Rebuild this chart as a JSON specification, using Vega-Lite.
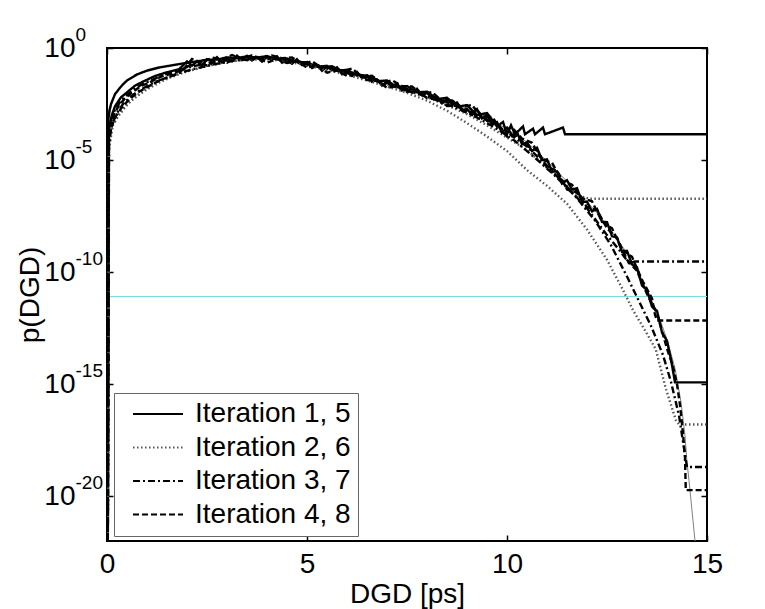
{
"$schema": "https://vega.github.io/schema/vega-lite/v6.json",
"width": 600, "height": 493,
"autosize": {"type": "none"},
"padding": {"left": 107, "top": 48, "right": 58, "bottom": 68},
"background": "white",
"config": {
  "view": {"stroke": "black", "strokeWidth": 2},
  "font": "Liberation Sans",
  "axis": {"domain": false, "grid": false, "labelFont": "Liberation Sans", "titleFont": "Liberation Sans", "labelColor": "black", "titleColor": "black", "tickColor": "black", "tickWidth": 1.5, "titleFontWeight": "normal", "labelFlush": false, "labelOverlap": false, "labelBound": false},
  "legend": {"symbolType": "M-2.5,0H2.5", "symbolSize": 400, "symbolStrokeWidth": 2, "symbolOffset": 23, "labelFontSize": 28, "labelFont": "Liberation Sans", "labelColor": "black", "labelOffset": 23, "rowPadding": 5.5, "padding": 7, "strokeColor": "#666666", "fillColor": "white", "labelLimit": 400}
},
"datasets": {
  "styles": [
    {"iter": 1, "grp": "Iteration 1, 5"}, {"iter": 5, "grp": "Iteration 1, 5"},
    {"iter": 2, "grp": "Iteration 2, 6"}, {"iter": 6, "grp": "Iteration 2, 6"},
    {"iter": 3, "grp": "Iteration 3, 7"}, {"iter": 7, "grp": "Iteration 3, 7"},
    {"iter": 4, "grp": "Iteration 4, 8"}, {"iter": 8, "grp": "Iteration 4, 8"}
  ],
  "marker": [{"logp": -11.09}],
  "theory": [
    {"dgd": 0.005, "logp": -22}, {"dgd": 0.02, "logp": -4.0}, {"dgd": 0.05, "logp": -3.2}, {"dgd": 0.1, "logp": -2.6}, {"dgd": 0.2, "logp": -2.05}, {"dgd": 0.3, "logp": -1.8}, {"dgd": 0.5, "logp": -1.45}, {"dgd": 0.75, "logp": -1.18}, {"dgd": 1.0, "logp": -1.0}, {"dgd": 1.5, "logp": -0.8}, {"dgd": 2.0, "logp": -0.67}, {"dgd": 2.5, "logp": -0.55}, {"dgd": 3.0, "logp": -0.46}, {"dgd": 3.5, "logp": -0.42}, {"dgd": 4.0, "logp": -0.42}, {"dgd": 4.5, "logp": -0.52}, {"dgd": 5.0, "logp": -0.7}, {"dgd": 5.5, "logp": -0.86}, {"dgd": 6.0, "logp": -1.05}, {"dgd": 6.5, "logp": -1.3}, {"dgd": 7.0, "logp": -1.55}, {"dgd": 7.5, "logp": -1.8}, {"dgd": 8.0, "logp": -2.05}, {"dgd": 8.5, "logp": -2.35}, {"dgd": 9.0, "logp": -2.7}, {"dgd": 9.5, "logp": -3.1}, {"dgd": 10.0, "logp": -3.62}, {"dgd": 10.5, "logp": -4.2}, {"dgd": 11.0, "logp": -5.05}, {"dgd": 11.5, "logp": -5.95}, {"dgd": 12.0, "logp": -6.85}, {"dgd": 12.5, "logp": -7.9}, {"dgd": 13.0, "logp": -9.15}, {"dgd": 13.5, "logp": -10.8}, {"dgd": 13.8, "logp": -12.0}, {"dgd": 14.0, "logp": -13.0}, {"dgd": 14.2, "logp": -14.3}, {"dgd": 14.35, "logp": -15.8}, {"dgd": 14.45, "logp": -17.3}, {"dgd": 14.5, "logp": -18.5}, {"dgd": 14.55, "logp": -19.3}, {"dgd": 14.6, "logp": -20.2}, {"dgd": 14.65, "logp": -21.1}, {"dgd": 14.7, "logp": -22}
  ],
  "curves": [
    {"iter": 1, "dgd": 0.02, "logp": -22}, {"iter": 1, "dgd": 0.03, "logp": -3.2}, {"iter": 1, "dgd": 0.06, "logp": -2.8}, {"iter": 1, "dgd": 0.1, "logp": -2.5}, {"iter": 1, "dgd": 0.2, "logp": -2.06}, {"iter": 1, "dgd": 0.3, "logp": -1.83}, {"iter": 1, "dgd": 0.4, "logp": -1.62}, {"iter": 1, "dgd": 0.5, "logp": -1.45}, {"iter": 1, "dgd": 0.75, "logp": -1.18}, {"iter": 1, "dgd": 1.0, "logp": -1.01}, {"iter": 1, "dgd": 1.3, "logp": -0.87}, {"iter": 1, "dgd": 1.7, "logp": -0.75}, {"iter": 1, "dgd": 2.0, "logp": -0.66}, {"iter": 1, "dgd": 2.25, "logp": -0.6}, {"iter": 1, "dgd": 2.5, "logp": -0.52}, {"iter": 1, "dgd": 2.75, "logp": -0.52}, {"iter": 1, "dgd": 3.0, "logp": -0.42}, {"iter": 1, "dgd": 3.25, "logp": -0.45}, {"iter": 1, "dgd": 3.5, "logp": -0.37}, {"iter": 1, "dgd": 3.75, "logp": -0.43}, {"iter": 1, "dgd": 4.0, "logp": -0.36}, {"iter": 1, "dgd": 4.25, "logp": -0.49}, {"iter": 1, "dgd": 4.5, "logp": -0.47}, {"iter": 1, "dgd": 4.75, "logp": -0.62}, {"iter": 1, "dgd": 5.0, "logp": -0.64}, {"iter": 1, "dgd": 5.25, "logp": -0.83}, {"iter": 1, "dgd": 5.5, "logp": -0.8}, {"iter": 1, "dgd": 5.75, "logp": -1.0}, {"iter": 1, "dgd": 6.0, "logp": -0.98}, {"iter": 1, "dgd": 6.25, "logp": -1.22}, {"iter": 1, "dgd": 6.5, "logp": -1.22}, {"iter": 1, "dgd": 6.75, "logp": -1.48}, {"iter": 1, "dgd": 7.0, "logp": -1.45}, {"iter": 1, "dgd": 7.25, "logp": -1.75}, {"iter": 1, "dgd": 7.5, "logp": -1.7}, {"iter": 1, "dgd": 7.75, "logp": -1.98}, {"iter": 1, "dgd": 8.0, "logp": -1.95}, {"iter": 1, "dgd": 8.25, "logp": -2.28}, {"iter": 1, "dgd": 8.5, "logp": -2.22}, {"iter": 1, "dgd": 8.75, "logp": -2.62}, {"iter": 1, "dgd": 9.0, "logp": -2.55}, {"iter": 1, "dgd": 9.25, "logp": -3.0}, {"iter": 1, "dgd": 9.5, "logp": -2.9}, {"iter": 1, "dgd": 9.75, "logp": -3.5}, {"iter": 1, "dgd": 9.9, "logp": -3.3}, {"iter": 1, "dgd": 10.0, "logp": -3.85}, {"iter": 1, "dgd": 10.1, "logp": -3.45}, {"iter": 1, "dgd": 10.2, "logp": -3.85}, {"iter": 1, "dgd": 10.4, "logp": -3.5}, {"iter": 1, "dgd": 10.45, "logp": -3.85}, {"iter": 1, "dgd": 10.65, "logp": -3.6}, {"iter": 1, "dgd": 10.7, "logp": -3.85}, {"iter": 1, "dgd": 10.9, "logp": -3.55}, {"iter": 1, "dgd": 10.95, "logp": -3.85}, {"iter": 1, "dgd": 11.4, "logp": -3.55}, {"iter": 1, "dgd": 11.45, "logp": -3.85}, {"iter": 1, "dgd": 15, "logp": -3.85},

    {"iter": 2, "dgd": 0.02, "logp": -22}, {"iter": 2, "dgd": 0.04, "logp": -4.6}, {"iter": 2, "dgd": 0.12, "logp": -3.5}, {"iter": 2, "dgd": 0.2, "logp": -3.3}, {"iter": 2, "dgd": 0.28, "logp": -3.05}, {"iter": 2, "dgd": 0.45, "logp": -2.65}, {"iter": 2, "dgd": 0.6, "logp": -2.35}, {"iter": 2, "dgd": 0.8, "logp": -2.05}, {"iter": 2, "dgd": 1.0, "logp": -1.8}, {"iter": 2, "dgd": 1.25, "logp": -1.5}, {"iter": 2, "dgd": 1.5, "logp": -1.35}, {"iter": 2, "dgd": 1.85, "logp": -1.1}, {"iter": 2, "dgd": 2.2, "logp": -0.95}, {"iter": 2, "dgd": 2.5, "logp": -0.8}, {"iter": 2, "dgd": 2.75, "logp": -0.72}, {"iter": 2, "dgd": 3.0, "logp": -0.58}, {"iter": 2, "dgd": 3.5, "logp": -0.5}, {"iter": 2, "dgd": 4.0, "logp": -0.47}, {"iter": 2, "dgd": 4.5, "logp": -0.55}, {"iter": 2, "dgd": 5.0, "logp": -0.74}, {"iter": 2, "dgd": 5.5, "logp": -0.92}, {"iter": 2, "dgd": 6.0, "logp": -1.12}, {"iter": 2, "dgd": 6.5, "logp": -1.36}, {"iter": 2, "dgd": 7.0, "logp": -1.63}, {"iter": 2, "dgd": 7.5, "logp": -1.9}, {"iter": 2, "dgd": 8.0, "logp": -2.2}, {"iter": 2, "dgd": 8.5, "logp": -2.55}, {"iter": 2, "dgd": 9.0, "logp": -2.95}, {"iter": 2, "dgd": 9.5, "logp": -3.45}, {"iter": 2, "dgd": 10.0, "logp": -4.0}, {"iter": 2, "dgd": 10.5, "logp": -4.55}, {"iter": 2, "dgd": 11.0, "logp": -5.35}, {"iter": 2, "dgd": 11.5, "logp": -6.15}, {"iter": 2, "dgd": 11.8, "logp": -6.6}, {"iter": 2, "dgd": 12.07, "logp": -6.73}, {"iter": 2, "dgd": 15, "logp": -6.73},

    {"iter": 3, "dgd": 0.02, "logp": -22}, {"iter": 3, "dgd": 0.04, "logp": -4.0}, {"iter": 3, "dgd": 0.1, "logp": -3.2}, {"iter": 3, "dgd": 0.2, "logp": -2.75}, {"iter": 3, "dgd": 0.35, "logp": -2.35}, {"iter": 3, "dgd": 0.5, "logp": -2.1}, {"iter": 3, "dgd": 0.7, "logp": -1.8}, {"iter": 3, "dgd": 0.9, "logp": -1.6}, {"iter": 3, "dgd": 1.1, "logp": -1.45}, {"iter": 3, "dgd": 1.4, "logp": -1.2}, {"iter": 3, "dgd": 1.7, "logp": -1.05}, {"iter": 3, "dgd": 2.0, "logp": -0.88}, {"iter": 3, "dgd": 2.4, "logp": -0.72}, {"iter": 3, "dgd": 2.8, "logp": -0.6}, {"iter": 3, "dgd": 3.2, "logp": -0.5}, {"iter": 3, "dgd": 3.6, "logp": -0.45}, {"iter": 3, "dgd": 4.0, "logp": -0.44}, {"iter": 3, "dgd": 4.5, "logp": -0.5}, {"iter": 3, "dgd": 5.0, "logp": -0.68}, {"iter": 3, "dgd": 5.5, "logp": -0.85}, {"iter": 3, "dgd": 6.0, "logp": -1.04}, {"iter": 3, "dgd": 6.5, "logp": -1.28}, {"iter": 3, "dgd": 7.0, "logp": -1.55}, {"iter": 3, "dgd": 7.5, "logp": -1.82}, {"iter": 3, "dgd": 8.0, "logp": -2.1}, {"iter": 3, "dgd": 8.5, "logp": -2.42}, {"iter": 3, "dgd": 9.0, "logp": -2.8}, {"iter": 3, "dgd": 9.5, "logp": -3.2}, {"iter": 3, "dgd": 10.0, "logp": -3.75}, {"iter": 3, "dgd": 10.5, "logp": -4.4}, {"iter": 3, "dgd": 11.0, "logp": -5.25}, {"iter": 3, "dgd": 11.5, "logp": -6.2}, {"iter": 3, "dgd": 12.0, "logp": -7.15}, {"iter": 3, "dgd": 12.5, "logp": -8.35}, {"iter": 3, "dgd": 12.8, "logp": -9.0}, {"iter": 3, "dgd": 13.05, "logp": -9.6}, {"iter": 3, "dgd": 13.2, "logp": -9.53}, {"iter": 3, "dgd": 15, "logp": -9.53},

    {"iter": 4, "dgd": 0.02, "logp": -22}, {"iter": 4, "dgd": 0.04, "logp": -3.9}, {"iter": 4, "dgd": 0.1, "logp": -3.3}, {"iter": 4, "dgd": 0.18, "logp": -2.95}, {"iter": 4, "dgd": 0.3, "logp": -2.55}, {"iter": 4, "dgd": 0.45, "logp": -2.25}, {"iter": 4, "dgd": 0.65, "logp": -1.95}, {"iter": 4, "dgd": 0.85, "logp": -1.7}, {"iter": 4, "dgd": 1.1, "logp": -1.5}, {"iter": 4, "dgd": 1.35, "logp": -1.28}, {"iter": 4, "dgd": 1.6, "logp": -1.15}, {"iter": 4, "dgd": 1.9, "logp": -0.98},
    {"iter": 4, "dgd": 2.125, "logp": -0.49}, {"iter": 4, "dgd": 2.375, "logp": -0.66}, {"iter": 4, "dgd": 2.625, "logp": -0.43}, {"iter": 4, "dgd": 2.875, "logp": -0.51}, {"iter": 4, "dgd": 3.125, "logp": -0.31}, {"iter": 4, "dgd": 3.375, "logp": -0.49}, {"iter": 4, "dgd": 3.625, "logp": -0.32}, {"iter": 4, "dgd": 3.875, "logp": -0.51}, {"iter": 4, "dgd": 4.125, "logp": -0.33}, {"iter": 4, "dgd": 4.375, "logp": -0.46}, {"iter": 4, "dgd": 4.625, "logp": -0.42}, {"iter": 4, "dgd": 4.875, "logp": -0.72}, {"iter": 4, "dgd": 5.125, "logp": -0.59}, {"iter": 4, "dgd": 5.375, "logp": -0.9}, {"iter": 4, "dgd": 5.625, "logp": -0.81}, {"iter": 4, "dgd": 5.875, "logp": -1.03}, {"iter": 4, "dgd": 6.125, "logp": -0.92}, {"iter": 4, "dgd": 6.375, "logp": -1.29}, {"iter": 4, "dgd": 6.625, "logp": -1.24}, {"iter": 4, "dgd": 6.875, "logp": -1.58}, {"iter": 4, "dgd": 7.125, "logp": -1.44}, {"iter": 4, "dgd": 7.375, "logp": -1.7}, {"iter": 4, "dgd": 7.625, "logp": -1.72}, {"iter": 4, "dgd": 7.875, "logp": -2.05}, {"iter": 4, "dgd": 8.125, "logp": -1.97}, {"iter": 4, "dgd": 8.375, "logp": -2.35}, {"iter": 4, "dgd": 8.625, "logp": -2.34}, {"iter": 4, "dgd": 8.875, "logp": -2.64}, {"iter": 4, "dgd": 9.125, "logp": -2.54}, {"iter": 4, "dgd": 9.375, "logp": -3.12}, {"iter": 4, "dgd": 9.625, "logp": -3.07}, {"iter": 4, "dgd": 9.875, "logp": -3.68}, {"iter": 4, "dgd": 10.125, "logp": -3.55}, {"iter": 4, "dgd": 10.375, "logp": -4.04}, {"iter": 4, "dgd": 10.625, "logp": -4.23}, {"iter": 4, "dgd": 10.875, "logp": -4.99}, {"iter": 4, "dgd": 11.125, "logp": -5.12}, {"iter": 4, "dgd": 11.375, "logp": -5.92}, {"iter": 4, "dgd": 11.625, "logp": -6.1}, {"iter": 4, "dgd": 11.875, "logp": -6.7}, {"iter": 4, "dgd": 12.125, "logp": -6.84}, {"iter": 4, "dgd": 12.375, "logp": -7.74}, {"iter": 4, "dgd": 12.625, "logp": -8.05}, {"iter": 4, "dgd": 12.875, "logp": -9.0}, {"iter": 4, "dgd": 13.125, "logp": -9.32}, {"iter": 4, "dgd": 13.375, "logp": -10.35}, {"iter": 4, "dgd": 13.625, "logp": -11.17}, {"iter": 4, "dgd": 13.7, "logp": -11.9}, {"iter": 4, "dgd": 13.75, "logp": -12.16}, {"iter": 4, "dgd": 15, "logp": -12.16},

    {"iter": 5, "dgd": 0.02, "logp": -22}, {"iter": 5, "dgd": 0.05, "logp": -3.6}, {"iter": 5, "dgd": 0.12, "logp": -3.0}, {"iter": 5, "dgd": 0.2, "logp": -2.6}, {"iter": 5, "dgd": 0.35, "logp": -2.2}, {"iter": 5, "dgd": 0.5, "logp": -1.98}, {"iter": 5, "dgd": 0.7, "logp": -1.68}, {"iter": 5, "dgd": 0.9, "logp": -1.5}, {"iter": 5, "dgd": 1.2, "logp": -1.25}, {"iter": 5, "dgd": 1.5, "logp": -1.08}, {"iter": 5, "dgd": 1.8, "logp": -0.95},
    {"iter": 5, "dgd": 2.0, "logp": -0.6}, {"iter": 5, "dgd": 2.125, "logp": -0.79}, {"iter": 5, "dgd": 2.25, "logp": -0.6}, {"iter": 5, "dgd": 2.375, "logp": -0.78}, {"iter": 5, "dgd": 2.5, "logp": -0.5}, {"iter": 5, "dgd": 2.625, "logp": -0.61}, {"iter": 5, "dgd": 2.75, "logp": -0.41}, {"iter": 5, "dgd": 2.875, "logp": -0.65}, {"iter": 5, "dgd": 3.0, "logp": -0.48}, {"iter": 5, "dgd": 3.125, "logp": -0.59}, {"iter": 5, "dgd": 3.25, "logp": -0.34}, {"iter": 5, "dgd": 3.375, "logp": -0.54}, {"iter": 5, "dgd": 3.5, "logp": -0.35}, {"iter": 5, "dgd": 3.625, "logp": -0.56}, {"iter": 5, "dgd": 3.75, "logp": -0.4}, {"iter": 5, "dgd": 3.875, "logp": -0.61}, {"iter": 5, "dgd": 4.0, "logp": -0.37}, {"iter": 5, "dgd": 4.125, "logp": -0.53}, {"iter": 5, "dgd": 4.25, "logp": -0.37}, {"iter": 5, "dgd": 4.375, "logp": -0.66}, {"iter": 5, "dgd": 4.5, "logp": -0.54}, {"iter": 5, "dgd": 4.625, "logp": -0.7}, {"iter": 5, "dgd": 4.75, "logp": -0.5}, {"iter": 5, "dgd": 4.875, "logp": -0.76}, {"iter": 5, "dgd": 5.0, "logp": -0.63}, {"iter": 5, "dgd": 5.125, "logp": -0.89}, {"iter": 5, "dgd": 5.25, "logp": -0.77}, {"iter": 5, "dgd": 5.375, "logp": -1.02}, {"iter": 5, "dgd": 5.5, "logp": -0.81}, {"iter": 5, "dgd": 5.625, "logp": -0.99}, {"iter": 5, "dgd": 5.75, "logp": -0.86}, {"iter": 5, "dgd": 5.875, "logp": -1.17}, {"iter": 5, "dgd": 6.0, "logp": -1.07}, {"iter": 5, "dgd": 6.125, "logp": -1.25}, {"iter": 5, "dgd": 6.25, "logp": -1.07}, {"iter": 5, "dgd": 6.375, "logp": -1.34}, {"iter": 5, "dgd": 6.5, "logp": -1.23}, {"iter": 5, "dgd": 6.625, "logp": -1.51}, {"iter": 5, "dgd": 6.75, "logp": -1.41}, {"iter": 5, "dgd": 6.875, "logp": -1.68}, {"iter": 5, "dgd": 7.0, "logp": -1.5}, {"iter": 5, "dgd": 7.125, "logp": -1.7}, {"iter": 5, "dgd": 7.25, "logp": -1.58}, {"iter": 5, "dgd": 7.375, "logp": -1.9}, {"iter": 5, "dgd": 7.5, "logp": -1.82}, {"iter": 5, "dgd": 7.625, "logp": -2.0}, {"iter": 5, "dgd": 7.75, "logp": -1.82}, {"iter": 5, "dgd": 7.875, "logp": -2.09}, {"iter": 5, "dgd": 8.0, "logp": -1.98}, {"iter": 5, "dgd": 8.125, "logp": -2.27}, {"iter": 5, "dgd": 8.25, "logp": -2.19}, {"iter": 5, "dgd": 8.375, "logp": -2.47}, {"iter": 5, "dgd": 8.5, "logp": -2.3}, {"iter": 5, "dgd": 8.625, "logp": -2.52}, {"iter": 5, "dgd": 8.75, "logp": -2.43}, {"iter": 5, "dgd": 8.875, "logp": -2.78}, {"iter": 5, "dgd": 9.0, "logp": -2.72}, {"iter": 5, "dgd": 9.125, "logp": -2.99}, {"iter": 5, "dgd": 9.25, "logp": -2.73}, {"iter": 5, "dgd": 9.375, "logp": -3.14}, {"iter": 5, "dgd": 9.5, "logp": -2.97}, {"iter": 5, "dgd": 9.625, "logp": -3.42}, {"iter": 5, "dgd": 9.75, "logp": -3.31}, {"iter": 5, "dgd": 9.875, "logp": -3.78}, {"iter": 5, "dgd": 10.0, "logp": -3.55}, {"iter": 5, "dgd": 10.125, "logp": -3.89}, {"iter": 5, "dgd": 10.25, "logp": -3.76}, {"iter": 5, "dgd": 10.375, "logp": -4.29}, {"iter": 5, "dgd": 10.5, "logp": -4.21}, {"iter": 5, "dgd": 10.625, "logp": -4.6}, {"iter": 5, "dgd": 10.75, "logp": -4.45}, {"iter": 5, "dgd": 10.875, "logp": -5.0}, {"iter": 5, "dgd": 11.0, "logp": -4.97}, {"iter": 5, "dgd": 11.125, "logp": -5.52}, {"iter": 5, "dgd": 11.25, "logp": -5.51}, {"iter": 5, "dgd": 11.375, "logp": -6.05}, {"iter": 5, "dgd": 11.5, "logp": -5.9}, {"iter": 5, "dgd": 11.625, "logp": -6.32}, {"iter": 5, "dgd": 11.75, "logp": -6.26}, {"iter": 5, "dgd": 11.875, "logp": -6.86}, {"iter": 5, "dgd": 12.0, "logp": -6.86}, {"iter": 5, "dgd": 12.125, "logp": -7.29}, {"iter": 5, "dgd": 12.25, "logp": -7.18}, {"iter": 5, "dgd": 12.375, "logp": -7.76}, {"iter": 5, "dgd": 12.5, "logp": -7.77}, {"iter": 5, "dgd": 12.625, "logp": -8.4}, {"iter": 5, "dgd": 12.75, "logp": -8.46}, {"iter": 5, "dgd": 12.875, "logp": -9.1}, {"iter": 5, "dgd": 13.0, "logp": -9.05}, {"iter": 5, "dgd": 13.125, "logp": -9.66}, {"iter": 5, "dgd": 13.25, "logp": -9.79}, {"iter": 5, "dgd": 13.375, "logp": -10.6}, {"iter": 5, "dgd": 13.5, "logp": -10.81}, {"iter": 5, "dgd": 13.625, "logp": -11.54}, {"iter": 5, "dgd": 13.75, "logp": -11.73}, {"iter": 5, "dgd": 13.875, "logp": -12.69}, {"iter": 5, "dgd": 14.0, "logp": -13.07}, {"iter": 5, "dgd": 14.1, "logp": -13.9}, {"iter": 5, "dgd": 14.15, "logp": -14.4}, {"iter": 5, "dgd": 14.2, "logp": -14.92}, {"iter": 5, "dgd": 15, "logp": -14.92},

    {"iter": 6, "dgd": 0.02, "logp": -22}, {"iter": 6, "dgd": 0.05, "logp": -4.5}, {"iter": 6, "dgd": 0.15, "logp": -3.4}, {"iter": 6, "dgd": 0.3, "logp": -2.95}, {"iter": 6, "dgd": 0.5, "logp": -2.5}, {"iter": 6, "dgd": 0.75, "logp": -2.15}, {"iter": 6, "dgd": 1.0, "logp": -1.85}, {"iter": 6, "dgd": 1.3, "logp": -1.55}, {"iter": 6, "dgd": 1.6, "logp": -1.3}, {"iter": 6, "dgd": 2.0, "logp": -1.05}, {"iter": 6, "dgd": 2.5, "logp": -0.8}, {"iter": 6, "dgd": 3.0, "logp": -0.62}, {"iter": 6, "dgd": 3.5, "logp": -0.52}, {"iter": 6, "dgd": 4.0, "logp": -0.5}, {"iter": 6, "dgd": 4.5, "logp": -0.6}, {"iter": 6, "dgd": 5.0, "logp": -0.78}, {"iter": 6, "dgd": 5.5, "logp": -0.98}, {"iter": 6, "dgd": 6.0, "logp": -1.2}, {"iter": 6, "dgd": 6.5, "logp": -1.45}, {"iter": 6, "dgd": 7.0, "logp": -1.72}, {"iter": 6, "dgd": 7.5, "logp": -2.0}, {"iter": 6, "dgd": 8.0, "logp": -2.35}, {"iter": 6, "dgd": 8.5, "logp": -2.8}, {"iter": 6, "dgd": 9.0, "logp": -3.35}, {"iter": 6, "dgd": 9.5, "logp": -3.95}, {"iter": 6, "dgd": 10.0, "logp": -4.6}, {"iter": 6, "dgd": 10.5, "logp": -5.45}, {"iter": 6, "dgd": 11.0, "logp": -6.15}, {"iter": 6, "dgd": 11.5, "logp": -6.95}, {"iter": 6, "dgd": 12.0, "logp": -8.1}, {"iter": 6, "dgd": 12.5, "logp": -9.45}, {"iter": 6, "dgd": 12.9, "logp": -10.8}, {"iter": 6, "dgd": 13.15, "logp": -11.7}, {"iter": 6, "dgd": 13.5, "logp": -12.75}, {"iter": 6, "dgd": 13.72, "logp": -13.45}, {"iter": 6, "dgd": 13.97, "logp": -15.2}, {"iter": 6, "dgd": 14.22, "logp": -16.6}, {"iter": 6, "dgd": 14.3, "logp": -16.8}, {"iter": 6, "dgd": 15, "logp": -16.8},

    {"iter": 7, "dgd": 0.02, "logp": -22}, {"iter": 7, "dgd": 0.05, "logp": -4.2}, {"iter": 7, "dgd": 0.12, "logp": -3.4}, {"iter": 7, "dgd": 0.25, "logp": -2.9}, {"iter": 7, "dgd": 0.4, "logp": -2.5}, {"iter": 7, "dgd": 0.6, "logp": -2.15}, {"iter": 7, "dgd": 0.85, "logp": -1.85}, {"iter": 7, "dgd": 1.1, "logp": -1.6}, {"iter": 7, "dgd": 1.4, "logp": -1.38}, {"iter": 7, "dgd": 1.8, "logp": -1.12}, {"iter": 7, "dgd": 2.2, "logp": -0.92}, {"iter": 7, "dgd": 2.7, "logp": -0.72}, {"iter": 7, "dgd": 3.2, "logp": -0.56}, {"iter": 7, "dgd": 3.7, "logp": -0.48}, {"iter": 7, "dgd": 4.2, "logp": -0.48}, {"iter": 7, "dgd": 4.7, "logp": -0.62}, {"iter": 7, "dgd": 5.2, "logp": -0.8}, {"iter": 7, "dgd": 5.7, "logp": -0.98}, {"iter": 7, "dgd": 6.2, "logp": -1.2}, {"iter": 7, "dgd": 6.7, "logp": -1.45}, {"iter": 7, "dgd": 7.2, "logp": -1.72}, {"iter": 7, "dgd": 7.7, "logp": -2.0}, {"iter": 7, "dgd": 8.2, "logp": -2.3}, {"iter": 7, "dgd": 8.7, "logp": -2.65}, {"iter": 7, "dgd": 9.2, "logp": -3.05}, {"iter": 7, "dgd": 9.7, "logp": -3.55}, {"iter": 7, "dgd": 10.2, "logp": -4.15}, {"iter": 7, "dgd": 10.7, "logp": -4.9}, {"iter": 7, "dgd": 11.2, "logp": -5.7}, {"iter": 7, "dgd": 11.7, "logp": -6.6}, {"iter": 7, "dgd": 12.2, "logp": -7.7}, {"iter": 7, "dgd": 12.6, "logp": -8.8}, {"iter": 7, "dgd": 13.0, "logp": -10.2}, {"iter": 7, "dgd": 13.3, "logp": -11.3}, {"iter": 7, "dgd": 13.6, "logp": -12.4}, {"iter": 7, "dgd": 13.9, "logp": -13.7}, {"iter": 7, "dgd": 14.1, "logp": -14.9}, {"iter": 7, "dgd": 14.3, "logp": -16.4}, {"iter": 7, "dgd": 14.42, "logp": -17.8}, {"iter": 7, "dgd": 14.5, "logp": -18.7}, {"iter": 7, "dgd": 15, "logp": -18.7},

    {"iter": 8, "dgd": 0.02, "logp": -22}, {"iter": 8, "dgd": 0.04, "logp": -4.3}, {"iter": 8, "dgd": 0.1, "logp": -3.6}, {"iter": 8, "dgd": 0.2, "logp": -3.1}, {"iter": 8, "dgd": 0.35, "logp": -2.7}, {"iter": 8, "dgd": 0.55, "logp": -2.3}, {"iter": 8, "dgd": 0.8, "logp": -1.95}, {"iter": 8, "dgd": 1.05, "logp": -1.7}, {"iter": 8, "dgd": 1.35, "logp": -1.42}, {"iter": 8, "dgd": 1.7, "logp": -1.2},
    {"iter": 8, "dgd": 2.0, "logp": -0.85}, {"iter": 8, "dgd": 2.25, "logp": -0.59}, {"iter": 8, "dgd": 2.5, "logp": -0.79}, {"iter": 8, "dgd": 2.75, "logp": -0.55}, {"iter": 8, "dgd": 3.0, "logp": -0.66}, {"iter": 8, "dgd": 3.25, "logp": -0.39}, {"iter": 8, "dgd": 3.5, "logp": -0.55}, {"iter": 8, "dgd": 3.75, "logp": -0.42}, {"iter": 8, "dgd": 4.0, "logp": -0.65}, {"iter": 8, "dgd": 4.25, "logp": -0.49}, {"iter": 8, "dgd": 4.5, "logp": -0.67}, {"iter": 8, "dgd": 4.75, "logp": -0.59}, {"iter": 8, "dgd": 5.0, "logp": -0.88}, {"iter": 8, "dgd": 5.25, "logp": -0.76}, {"iter": 8, "dgd": 5.5, "logp": -1.1}, {"iter": 8, "dgd": 5.75, "logp": -1.0}, {"iter": 8, "dgd": 6.0, "logp": -1.25}, {"iter": 8, "dgd": 6.25, "logp": -1.12}, {"iter": 8, "dgd": 6.5, "logp": -1.43}, {"iter": 8, "dgd": 6.75, "logp": -1.43}, {"iter": 8, "dgd": 7.0, "logp": -1.78}, {"iter": 8, "dgd": 7.25, "logp": -1.7}, {"iter": 8, "dgd": 7.5, "logp": -1.95}, {"iter": 8, "dgd": 7.75, "logp": -1.91}, {"iter": 8, "dgd": 8.0, "logp": -2.23}, {"iter": 8, "dgd": 8.25, "logp": -2.18}, {"iter": 8, "dgd": 8.5, "logp": -2.59}, {"iter": 8, "dgd": 8.75, "logp": -2.57}, {"iter": 8, "dgd": 9.0, "logp": -2.9}, {"iter": 8, "dgd": 9.25, "logp": -2.78}, {"iter": 8, "dgd": 9.5, "logp": -3.25}, {"iter": 8, "dgd": 9.75, "logp": -3.32}, {"iter": 8, "dgd": 10.0, "logp": -3.95}, {"iter": 8, "dgd": 10.25, "logp": -3.92}, {"iter": 8, "dgd": 10.5, "logp": -4.38}, {"iter": 8, "dgd": 10.75, "logp": -4.56}, {"iter": 8, "dgd": 11.0, "logp": -5.32}, {"iter": 8, "dgd": 11.25, "logp": -5.47}, {"iter": 8, "dgd": 11.5, "logp": -6.31}, {"iter": 8, "dgd": 11.75, "logp": -6.45}, {"iter": 8, "dgd": 12.0, "logp": -7.1}, {"iter": 8, "dgd": 12.25, "logp": -7.23}, {"iter": 8, "dgd": 12.5, "logp": -8.05}, {"iter": 8, "dgd": 12.75, "logp": -8.47}, {"iter": 8, "dgd": 13.0, "logp": -9.45}, {"iter": 8, "dgd": 13.25, "logp": -9.95}, {"iter": 8, "dgd": 13.5, "logp": -10.98}, {"iter": 8, "dgd": 13.75, "logp": -11.84}, {"iter": 8, "dgd": 14.0, "logp": -13.42}, {"iter": 8, "dgd": 14.15, "logp": -14.2}, {"iter": 8, "dgd": 14.25, "logp": -15.0}, {"iter": 8, "dgd": 14.33, "logp": -16.0}, {"iter": 8, "dgd": 14.4, "logp": -17.2}, {"iter": 8, "dgd": 14.45, "logp": -18.3}, {"iter": 8, "dgd": 14.47, "logp": -19.73}, {"iter": 8, "dgd": 15, "logp": -19.73}
  ]
},
"layer": [
  {
    "data": {"name": "marker"},
    "mark": {"type": "rule", "color": "#74dfe0", "strokeWidth": 1},
    "encoding": {
      "y": {"field": "logp", "type": "quantitative", "scale": {"domain": [-22, 0], "nice": false, "zero": false},
            "axis": {"orient": "right", "labels": false, "title": null, "ticks": true, "tickSize": -6, "values": [0, -5, -10, -15, -20]}}
    }
  },
  {
    "data": {"name": "theory"},
    "mark": {"type": "line", "color": "#808080", "strokeWidth": 1, "clip": true},
    "encoding": {
      "x": {"field": "dgd", "type": "quantitative", "scale": {"domain": [0, 15], "nice": false, "zero": false},
            "axis": {"orient": "top", "labels": false, "title": null, "tickSize": -6, "values": [0, 5, 10, 15]}},
      "y": {"field": "logp", "type": "quantitative", "scale": {"domain": [-22, 0], "nice": false, "zero": false},
            "axis": {"orient": "left", "ticks": false, "title": null, "values": [0, -5, -10, -15, -20], "labelExpr": "datum.value == 0 ? '0' : '-' + (-datum.value)", "labelAlign": "left", "labelPadding": 32, "labelOffset": -14, "labelFontSize": 19}}
    }
  },
  {
    "data": {"name": "curves"},
    "transform": [{"lookup": "iter", "from": {"data": {"name": "styles"}, "key": "iter", "fields": ["grp"]}}],
    "mark": {"type": "line", "strokeWidth": 2.4, "clip": true},
    "encoding": {
      "x": {"field": "dgd", "type": "quantitative", "scale": {"domain": [0, 15], "nice": false, "zero": false},
            "axis": {"orient": "bottom", "values": [0, 5, 10, 15], "labelFontSize": 28, "labelPadding": 15, "tickSize": -6, "title": "DGD [ps]", "titleFontSize": 28, "titlePadding": 2}},
      "y": {"field": "logp", "type": "quantitative", "scale": {"domain": [-22, 0], "nice": false, "zero": false},
            "axis": {"orient": "left", "values": [0, -5, -10, -15, -20], "labelExpr": "'10'", "labelFontSize": 28, "labelPadding": 38, "tickSize": -6, "title": "p(DGD)", "titleFontSize": 28, "titlePadding": -1}},
      "detail": {"field": "iter", "type": "nominal"},
      "strokeDash": {"field": "grp", "type": "nominal",
        "scale": {"domain": ["Iteration 1, 5", "Iteration 2, 6", "Iteration 3, 7", "Iteration 4, 8"], "range": [[1, 0], [1.5, 2.5], [7, 3, 2, 3], [6, 3]]},
        "legend": {"title": null, "orient": "none", "legendX": 7, "legendY": 345, "labelExpr": "datum.label + '    '"}},
      "color": {"field": "grp", "type": "nominal",
        "scale": {"domain": ["Iteration 1, 5", "Iteration 2, 6", "Iteration 3, 7", "Iteration 4, 8"], "range": ["black", "#555555", "black", "black"]},
        "legend": {"title": null, "orient": "none", "legendX": 7, "legendY": 345, "labelExpr": "datum.label + '    '"}}
    }
  }
],
"resolve": {"axis": {"x": "independent", "y": "independent"}}
}
